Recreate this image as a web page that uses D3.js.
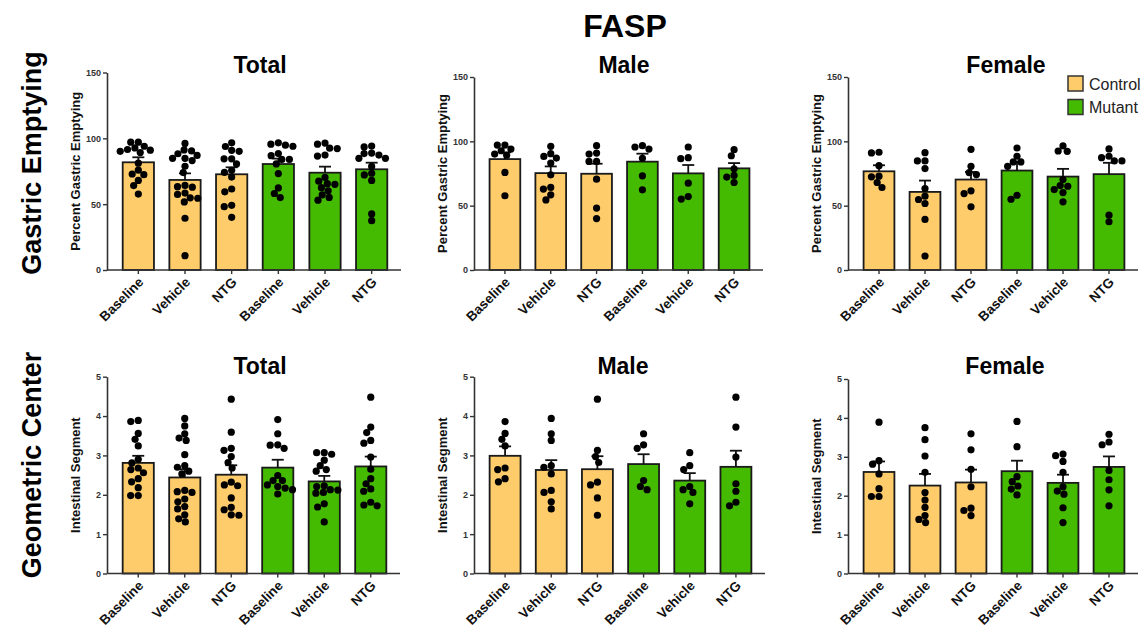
<!DOCTYPE html>
<html><head><meta charset="utf-8">
<script src="https://cdn.jsdelivr.net/npm/d3@7"></script>
<style>body{margin:0;background:#fff}svg{display:block;font-family:"Liberation Sans",Arial,sans-serif}</style>
</head><body><svg id="chart" width="1148" height="627"></svg>
<script>
// ---------- data ----------
const categories = ["Baseline", "Vehicle", "NTG", "Baseline", "Vehicle", "NTG"];
const genotypes = ["Control", "Control", "Control", "Mutant", "Mutant", "Mutant"];
const legendLabels = ["Control", "Mutant"];
const geTicks = [0, 50, 100, 150];
const gcTicks = [0, 1, 2, 3, 4, 5];

// Gastric emptying (%)
const geTotalMean = [81.8, 68.4, 72.7, 80.5, 73.9, 76.5];
const geTotalSem = [3.8, 5.0, 5.3, 4.1, 4.6, 5.0];
const geTotalDots = [
  [92.7, 90.1, 89.2, 94.0, 97.1, 97.1, 75.8, 57.7, 91.0, 91.5, 81.1, 72.9, 72.4, 68.0, 64.1],
  [96.1, 90.4, 88.3, 87.0, 83.1, 74.0, 64.2, 62.9, 58.4, 54.5, 91.2, 84.8, 84.8, 78.8, 63.3, 57.4, 54.8, 51.7, 39.3, 10.9],
  [96.6, 90.9, 90.1, 84.4, 84.4, 70.6, 48.1, 40.0, 93.8, 80.6, 75.7, 74.2, 61.5, 59.4, 49.1],
  [95.6, 94.0, 96.6, 86.8, 73.2, 62.3, 94.8, 88.4, 84.0, 84.0, 80.6, 58.1, 55.0],
  [95.6, 86.5, 87.3, 67.5, 57.1, 55.1, 96.4, 92.5, 92.2, 70.3, 65.6, 65.1, 62.5, 60.2, 53.0],
  [93.5, 88.8, 78.7, 73.5, 72.2, 68.0, 94.1, 87.3, 88.4, 84.8, 84.8, 42.6, 37.5]
];
const geMaleMean = [86.2, 75.3, 74.8, 84.2, 75.1, 79.0];
const geMaleSem = [5.2, 5.2, 7.8, 6.2, 6.5, 4.1];
const geMaleDots = [
  [92.7, 90.1, 89.2, 94.0, 97.1, 97.1, 75.8, 57.7],
  [96.1, 90.4, 88.3, 87.0, 83.1, 74.0, 64.2, 62.9, 58.4, 54.5],
  [96.6, 90.9, 90.1, 84.4, 84.4, 70.6, 48.1, 40.0],
  [95.6, 94.0, 96.6, 86.8, 73.2, 62.3],
  [95.6, 86.5, 87.3, 67.5, 57.1, 55.1],
  [93.5, 88.8, 78.7, 73.5, 72.2, 68.0]
];
const geFemaleMean = [76.7, 60.7, 70.3, 77.3, 72.6, 74.5];
const geFemaleSem = [4.7, 8.8, 5.9, 6.7, 6.0, 8.8];
const geFemaleDots = [
  [91.0, 91.5, 81.1, 72.9, 72.4, 68.0, 64.1],
  [91.2, 84.8, 84.8, 78.8, 63.3, 57.4, 54.8, 51.7, 39.3, 10.9],
  [93.8, 80.6, 75.7, 74.2, 61.5, 59.4, 49.1],
  [94.8, 88.4, 84.0, 84.0, 80.6, 58.1, 55.0],
  [96.4, 92.5, 92.2, 70.3, 65.6, 65.1, 62.5, 60.2, 53.0],
  [94.1, 87.3, 88.4, 84.8, 84.8, 42.6, 37.5]
];

// Geometric center (intestinal segment)
const gcTotalMean = [2.81, 2.44, 2.51, 2.69, 2.34, 2.72];
const gcTotalSem = [0.18, 0.21, 0.24, 0.20, 0.14, 0.25];
const gcTotalDots = [
  [3.86, 3.56, 3.41, 3.24, 2.68, 2.64, 2.41, 2.33, 3.89, 2.90, 2.81, 2.56, 2.18, 1.98, 1.98],
  [3.94, 3.55, 3.38, 2.74, 2.70, 2.53, 2.11, 2.06, 1.82, 1.64, 3.75, 3.44, 3.02, 2.60, 2.08, 1.89, 1.70, 1.49, 1.39, 1.31],
  [4.43, 3.13, 2.97, 2.82, 2.32, 2.25, 1.92, 1.48, 3.59, 3.18, 2.68, 2.23, 1.68, 1.62, 1.49],
  [3.55, 3.27, 3.18, 2.36, 2.21, 2.13, 3.91, 3.26, 2.49, 2.36, 2.25, 2.17, 2.02],
  [3.07, 2.74, 2.64, 2.21, 2.13, 2.06, 1.77, 3.07, 3.03, 2.88, 2.60, 2.23, 2.12, 2.04, 1.69, 1.31],
  [4.48, 3.72, 2.96, 2.28, 2.09, 1.81, 1.72, 3.58, 3.38, 3.31, 2.65, 2.41, 2.15, 1.74]
];
const gcMaleMean = [2.99, 2.63, 2.65, 2.78, 2.36, 2.71];
const gcMaleSem = [0.24, 0.25, 0.33, 0.25, 0.19, 0.41];
const gcMaleDots = [
  [3.86, 3.56, 3.41, 3.24, 2.68, 2.64, 2.41, 2.33],
  [3.94, 3.55, 3.38, 2.74, 2.70, 2.53, 2.11, 2.06, 1.82, 1.64],
  [4.43, 3.13, 2.97, 2.82, 2.32, 2.25, 1.92, 1.48],
  [3.55, 3.27, 3.18, 2.36, 2.21, 2.13],
  [3.07, 2.74, 2.64, 2.21, 2.13, 2.06, 1.77],
  [4.48, 3.72, 2.96, 2.28, 2.09, 1.81, 1.72]
];
const gcFemaleMean = [2.61, 2.26, 2.34, 2.63, 2.33, 2.74];
const gcFemaleSem = [0.27, 0.30, 0.33, 0.27, 0.21, 0.27];
const gcFemaleDots = [
  [3.89, 2.90, 2.81, 2.56, 2.18, 1.98, 1.98],
  [3.75, 3.44, 3.02, 2.60, 2.08, 1.89, 1.70, 1.49, 1.39, 1.31],
  [3.59, 3.18, 2.68, 2.23, 1.68, 1.62, 1.49],
  [3.91, 3.26, 2.49, 2.36, 2.25, 2.17, 2.02],
  [3.07, 3.03, 2.88, 2.60, 2.23, 2.12, 2.04, 1.69, 1.31],
  [3.58, 3.38, 3.31, 2.65, 2.41, 2.15, 1.74]
];

// ---------- layout ----------
const colors = {Control: "#FECC6A", Mutant: "#44BA00"};
const FONT = '"Liberation Sans", Arial, sans-serif';
const panels = [
  {title: "Total", mean: geTotalMean, sem: geTotalSem, dots: geTotalDots, ticks: geTicks, ylabel: "Percent Gastric Emptying", x0: 107, x1: 401, yTop: 72.5, yBot: 270, titleX: 260, titleY: 73},
  {title: "Male", mean: geMaleMean, sem: geMaleSem, dots: geMaleDots, ticks: geTicks, ylabel: "Percent Gastric Emptying", x0: 474, x1: 763, yTop: 77, yBot: 270, titleX: 624, titleY: 73},
  {title: "Female", mean: geFemaleMean, sem: geFemaleSem, dots: geFemaleDots, ticks: geTicks, ylabel: "Percent Gastric Emptying", x0: 848, x1: 1138, yTop: 77, yBot: 270, titleX: 1006, titleY: 73, legend: true},
  {title: "Total", mean: gcTotalMean, sem: gcTotalSem, dots: gcTotalDots, ticks: gcTicks, ylabel: "Intestinal Segment", x0: 107, x1: 400, yTop: 376.7, yBot: 573.5, titleX: 260, titleY: 374},
  {title: "Male", mean: gcMaleMean, sem: gcMaleSem, dots: gcMaleDots, ticks: gcTicks, ylabel: "Intestinal Segment", x0: 474, x1: 765, yTop: 376.7, yBot: 573.5, titleX: 623, titleY: 374},
  {title: "Female", mean: gcFemaleMean, sem: gcFemaleSem, dots: gcFemaleDots, ticks: gcTicks, ylabel: "Intestinal Segment", x0: 848, x1: 1138, yTop: 379, yBot: 573.5, titleX: 1005, titleY: 374}
];

const svg = d3.select("#chart");

svg.append("text").attr("x", 625).attr("y", 37).attr("text-anchor", "middle")
  .style("font-family", FONT).style("font-weight", "bold").style("font-size", "32px").attr("fill", "#000").text("FASP");

[["Gastric Emptying", 163], ["Geometric Center", 465]].forEach(([t, cy]) => {
  svg.append("text").attr("transform", `translate(41,${cy}) rotate(-90)`).attr("text-anchor", "middle")
    .style("font-family", FONT).style("font-weight", "bold").style("font-size", "27px").attr("fill", "#000").text(t);
});

// beeswarm with elliptical collision (dots may overlap vertically, as in the source plot)
function swarm(vals, y, cx, Dx, Dy) {
  const pts = vals.map(v => ({v, y: y(v)})).sort((a, b) => b.v - a.v);
  const placed = [];
  pts.forEach(p => {
    const near = placed.filter(q => Math.abs(q.y - p.y) < Dy);
    const cands = [0];
    near.forEach(q => {
      const t = (q.y - p.y) / Dy;
      const dx = Dx * Math.sqrt(1 - t * t);
      cands.push(q.dx + dx, q.dx - dx);
    });
    const ok = cands.filter(c => near.every(q => ((c - q.dx) / Dx) ** 2 + ((p.y - q.y) / Dy) ** 2 >= 0.999));
    ok.sort((a, b) => Math.abs(a) - Math.abs(b) || a - b);
    p.dx = ok[0];
    placed.push(p);
  });
  return placed.map(p => ({v: p.v, x: cx + p.dx, y: p.y}));
}

panels.forEach(P => {
  const g = svg.append("g");
  const y = d3.scaleLinear().domain([0, d3.max(P.ticks)]).range([P.yBot, P.yTop]);
  const x = d3.scaleBand().domain(d3.range(categories.length)).range([P.x0 + 8, P.x1 - 6])
    .paddingInner(0.33).paddingOuter(0.165);

  // bars
  g.selectAll("rect.bar").data(P.mean).join("rect").attr("class", "bar")
    .attr("x", (d, i) => x(i)).attr("width", x.bandwidth())
    .attr("y", d => y(d)).attr("height", d => y(0) - y(d))
    .attr("fill", (d, i) => colors[genotypes[i]]).attr("stroke", "#1a1a1a").attr("stroke-width", 1.8);

  // error bars (mean + SEM)
  const eb = g.selectAll("g.eb").data(P.mean).join("g").attr("class", "eb");
  eb.append("line").attr("x1", (d, i) => x(i) + x.bandwidth() / 2).attr("x2", (d, i) => x(i) + x.bandwidth() / 2)
    .attr("y1", d => y(d)).attr("y2", (d, i) => y(d + P.sem[i])).attr("stroke", "#111").attr("stroke-width", 1.8);
  eb.append("line").attr("x1", (d, i) => x(i) + x.bandwidth() / 2 - 6).attr("x2", (d, i) => x(i) + x.bandwidth() / 2 + 6)
    .attr("y1", (d, i) => y(d + P.sem[i])).attr("y2", (d, i) => y(d + P.sem[i])).attr("stroke", "#111").attr("stroke-width", 1.8);

  // dots
  P.dots.forEach((vals, i) => {
    const pts = swarm(vals, y, x(i) + x.bandwidth() / 2, 7.6, 6.5);
    g.selectAll(null).data(pts).join("circle").attr("cx", d => d.x).attr("cy", d => d.y).attr("r", 3.6).attr("fill", "#000");
  });

  // y axis
  const ya = g.append("g").attr("transform", `translate(${P.x0},0)`)
    .call(d3.axisLeft(y).tickValues(P.ticks).tickFormat(d3.format("d")).tickSize(4).tickSizeOuter(0).tickPadding(2));
  ya.select(".domain").attr("stroke", "#333").attr("stroke-width", 1.6);
  ya.selectAll(".tick line").attr("stroke", "#333").attr("stroke-width", 1.4);
  ya.selectAll(".tick text").style("font-family", FONT).style("font-weight", "bold").style("font-size", "9px").attr("fill", "#333");

  // x axis
  const xa = g.append("g").attr("transform", `translate(0,${P.yBot})`)
    .call(d3.axisBottom(x).tickFormat(i => categories[i]).tickSize(4).tickSizeOuter(0));
  xa.select(".domain").remove();
  xa.append("line").attr("x1", P.x0).attr("x2", P.x1).attr("stroke", "#333").attr("stroke-width", 1.6);
  xa.selectAll(".tick line").attr("stroke", "#333").attr("stroke-width", 1.4);
  xa.selectAll(".tick text").attr("x", 0).attr("y", 0).attr("dy", null)
    .attr("transform", "translate(6,13) rotate(-45)").attr("text-anchor", "end")
    .style("font-family", FONT).style("font-weight", "bold").style("font-size", "13.5px").attr("fill", "#111");

  // y label
  g.append("text").attr("transform", `translate(${P.x0 - 27},${(P.yTop + P.yBot) / 2}) rotate(-90)`)
    .attr("text-anchor", "middle").style("font-family", FONT).style("font-weight", "bold").style("font-size", "13px")
    .attr("fill", "#111").text(P.ylabel);

  // title
  g.append("text").attr("x", P.titleX).attr("y", P.titleY).attr("text-anchor", "middle")
    .style("font-family", FONT).style("font-weight", "bold").style("font-size", "23px").attr("fill", "#000").text(P.title);

  if (P.legend) {
    const lg = g.append("g").attr("transform", "translate(1068,76)");
    legendLabels.forEach((l, k) => {
      lg.append("rect").attr("x", 0).attr("y", k * 23.5).attr("width", 15).attr("height", 15)
        .attr("fill", colors[l]).attr("stroke", "#333").attr("stroke-width", 1.5);
      lg.append("text").attr("x", 21).attr("y", k * 23.5 + 13.5)
        .style("font-family", FONT).style("font-size", "16px").attr("fill", "#222").text(l);
    });
  }
});
</script></body></html>
